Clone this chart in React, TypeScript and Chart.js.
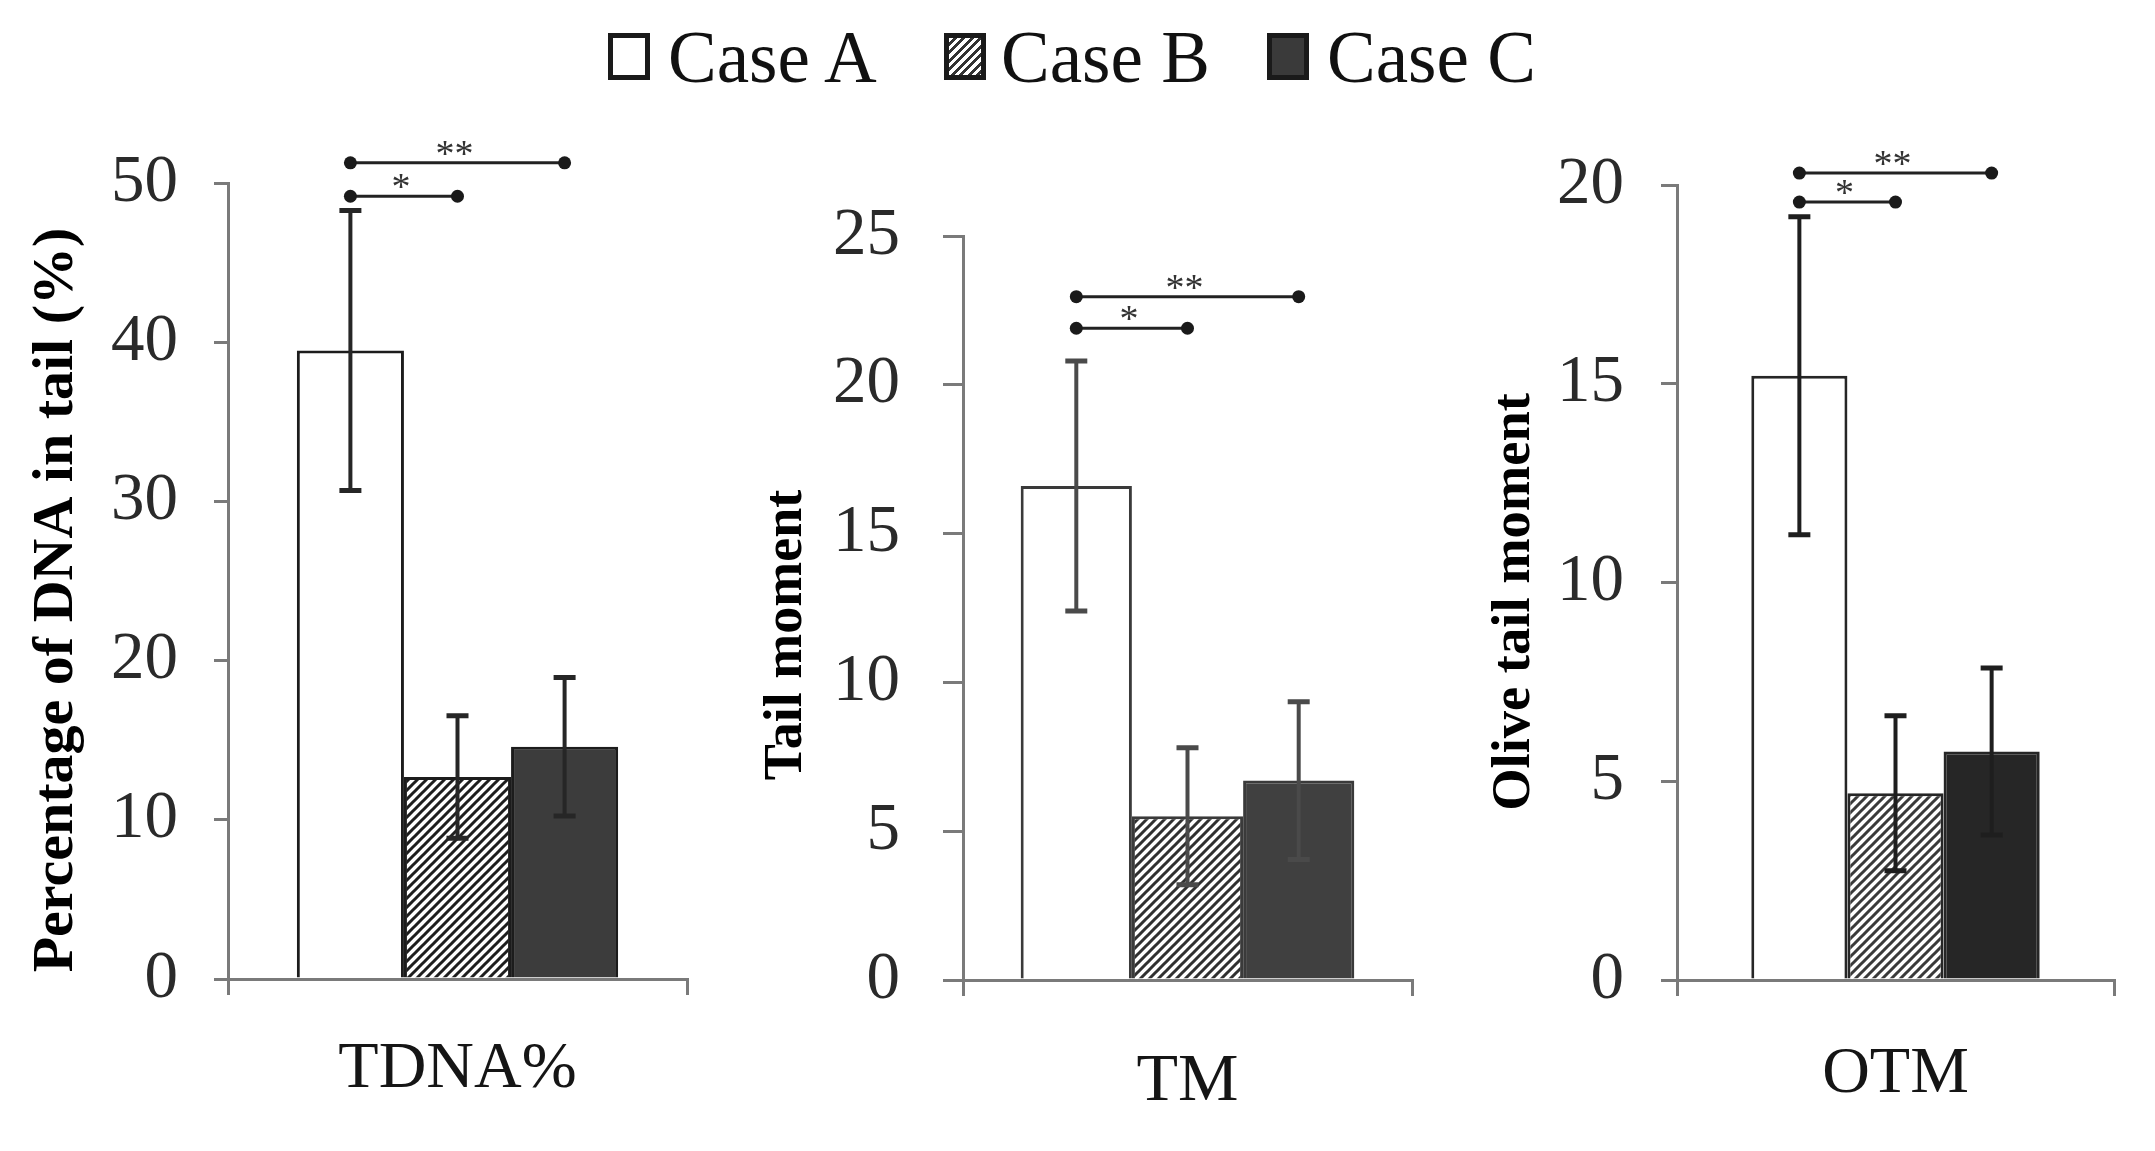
import React, { useEffect, useRef } from "react";
import { Chart, registerables } from "chart.js";

Chart.register(...registerables);

// ---------------- data ----------------
const groups = ["TDNA%", "TM", "OTM"];
const seriesNames = ["Case A", "Case B", "Case C"];
const caseAMean = [39.5, 16.6, 15.2];
const caseASd = [8.8, 4.2, 4.0];
const caseBMean = [12.7, 5.5, 4.7];
const caseBSd = [3.85, 2.3, 1.95];
const caseCMean = [14.6, 6.7, 5.75];
const caseCSd = [4.35, 2.65, 2.1];
const yTitles = ["Percentage of DNA in tail (%)", "Tail moment", "Olive tail moment"];
const yMax = [50, 25, 20];
const yStep = [10, 5, 5];
// significance brackets (value level on each panel's y scale)
const sigABLevel = [49.2, 21.9, 19.57];
const sigACLevel = [51.3, 22.96, 20.3];
const sigABLabel = "*";
const sigACLabel = "**";

// ---------------- layout / style ----------------
const SERIF = "'Liberation Serif', 'Times New Roman', serif";
const PAGE_H = 1151;

const PANELS = [
  {
    left: 0, width: 715, top: 90,
    plotTop: 183.5, plotBottom: 979, plotLeft: 228, plotRight: 687,
    tickLen: 14, tickPad: 36, tickSize: 67,
    titleSize: 58, titleX: 57, titleY: 600,
    xLabelSize: 66, xPad: 35, catPct: 0.70,
    barBorder: "#1c1c1c", fillC: "#3c3c3c", hatch: "#1e1e1e", err: "#262626",
  },
  {
    left: 715, width: 715, top: 90,
    plotTop: 236, plotBottom: 980, plotLeft: 963, plotRight: 1412,
    tickLen: 20, tickPad: 43, tickSize: 67,
    titleSize: 54, titleX: 787, titleY: 635,
    xLabelSize: 68, xPad: 45, catPct: 0.743,
    barBorder: "#3a3a3a", fillC: "#404040", hatch: "#303030", err: "#4a4a4a",
  },
  {
    left: 1430, width: 725, top: 90,
    plotTop: 185, plotBottom: 980, plotLeft: 1677, plotRight: 2114,
    tickLen: 16, tickPad: 37, tickSize: 67,
    titleSize: 54.5, titleX: 1515, titleY: 602,
    xLabelSize: 66, xPad: 39, catPct: 0.66,
    barBorder: "#262626", fillC: "#262626", hatch: "#3a3a3a", err: "#1e1e1e",
  },
];

function makeHatch(color: string): CanvasPattern | string {
  const c = document.createElement("canvas");
  const n = 9;
  c.width = n;
  c.height = n;
  const g = c.getContext("2d");
  if (!g) return color;
  g.fillStyle = "#ffffff";
  g.fillRect(0, 0, n, n);
  g.strokeStyle = color;
  g.lineWidth = 3;
  g.lineCap = "square";
  g.beginPath();
  g.moveTo(-1, n + 1);
  g.lineTo(n + 1, -1);
  g.moveTo(-2, 2);
  g.lineTo(2, -2);
  g.moveTo(n - 2, n + 2);
  g.lineTo(n + 2, n - 2);
  g.stroke();
  const p = g.createPattern(c, "repeat");
  return p || color;
}

function Panel({ index }: { index: number }) {
  const ref = useRef<HTMLCanvasElement | null>(null);
  const P = PANELS[index];
  const height = PAGE_H - P.top;

  useEffect(() => {
    const canvas = ref.current;
    if (!canvas) return;
    const means = [caseAMean[index], caseBMean[index], caseCMean[index]];
    const sds = [caseASd[index], caseBSd[index], caseCSd[index]];

    const errorBars = {
      id: "errorBars",
      afterDatasetsDraw(chart: any) {
        const ctx = chart.ctx;
        const ys = chart.scales.y;
        ctx.save();
        ctx.strokeStyle = P.err;
        chart.data.datasets.forEach((ds: any, di: number) => {
          const meta = chart.getDatasetMeta(di);
          meta.data.forEach((bar: any, i: number) => {
            const v = ds.data[i];
            const sd = sds[di];
            const x = bar.x;
            const yt = ys.getPixelForValue(v + sd);
            const yb = ys.getPixelForValue(v - sd);
            ctx.lineWidth = 4;
            ctx.beginPath();
            ctx.moveTo(x, yt);
            ctx.lineTo(x, yb);
            ctx.stroke();
            ctx.lineWidth = 5;
            ctx.beginPath();
            ctx.moveTo(x - 11, yt);
            ctx.lineTo(x + 11, yt);
            ctx.moveTo(x - 11, yb);
            ctx.lineTo(x + 11, yb);
            ctx.stroke();
          });
        });
        ctx.restore();
      },
    };

    const brackets = {
      id: "brackets",
      afterDraw(chart: any) {
        const ctx = chart.ctx;
        const ys = chart.scales.y;
        const xA = chart.getDatasetMeta(0).data[0].x;
        const xB = chart.getDatasetMeta(1).data[0].x;
        const xC = chart.getDatasetMeta(2).data[0].x;
        const items = [
          { x1: xA, x2: xB, level: sigABLevel[index], label: sigABLabel },
          { x1: xA, x2: xC, level: sigACLevel[index], label: sigACLabel },
        ];
        ctx.save();
        ctx.strokeStyle = "#222222";
        items.forEach((it) => {
          const y = ys.getPixelForValue(it.level);
          ctx.lineWidth = 3;
          ctx.beginPath();
          ctx.moveTo(it.x1, y);
          ctx.lineTo(it.x2, y);
          ctx.stroke();
          ctx.fillStyle = "#1a1a1a";
          [it.x1, it.x2].forEach((xx) => {
            ctx.beginPath();
            ctx.arc(xx, y, 6.5, 0, Math.PI * 2);
            ctx.fill();
          });
          ctx.font = `38px ${SERIF}`;
          ctx.textAlign = "center";
          ctx.textBaseline = "alphabetic";
          ctx.fillStyle = "#333333";
          ctx.fillText(it.label, (it.x1 + it.x2) / 2 - 3, y + 3);
        });
        ctx.restore();
      },
    };

    // y-axis title, placed where the reference has it (offset from the plot centre)
    const yTitle = {
      id: "yTitle",
      afterDraw(chart: any) {
        const ctx = chart.ctx;
        ctx.save();
        ctx.translate(P.titleX - P.left, P.titleY - P.top);
        ctx.rotate(-Math.PI / 2);
        ctx.font = `bold ${P.titleSize}px ${SERIF}`;
        ctx.fillStyle = "#000000";
        ctx.textAlign = "center";
        ctx.textBaseline = "middle";
        ctx.fillText(yTitles[index], 0, 0);
        ctx.restore();
      },
    };

    const hatch = makeHatch(P.hatch);
    const fills = ["#ffffff", hatch, P.fillC];

    const chart = new Chart(canvas, {
      type: "bar",
      data: {
        labels: [groups[index]],
        datasets: seriesNames.map((name, i) => ({
          label: name,
          data: [means[i]],
          backgroundColor: fills[i] as any,
          borderColor: P.barBorder,
          borderWidth: 3,
          borderSkipped: "bottom",
          categoryPercentage: P.catPct,
          barPercentage: 1.0,
        })),
      },
      options: {
        animation: false,
        responsive: true,
        maintainAspectRatio: false,
        devicePixelRatio: 1,
        layout: {
          padding: {
            left: 0,
            top: P.plotTop - P.top,
            right: P.left + P.width - P.plotRight,
            bottom: 0,
          },
        },
        plugins: {
          legend: { display: false },
          tooltip: { enabled: false },
        },
        scales: {
          x: {
            type: "category",
            offset: true,
            grid: {
              offset: true,
              drawOnChartArea: false,
              drawTicks: true,
              tickLength: 16,
              color: "#7a7a7a",
              lineWidth: 3,
            },
            border: { display: true, color: "#7a7a7a", width: 3 },
            ticks: {
              font: { family: SERIF, size: P.xLabelSize },
              color: "#151515",
              padding: P.xPad,
              maxRotation: 0,
            },
            afterFit: (s: any) => {
              s.height = P.top + height - P.plotBottom;
            },
          },
          y: {
            min: 0,
            max: yMax[index],
            ticks: {
              stepSize: yStep[index],
              font: { family: SERIF, size: P.tickSize },
              color: "#2a2a2a",
              padding: P.tickPad,
            },
            grid: {
              drawOnChartArea: false,
              drawTicks: true,
              tickLength: P.tickLen,
              color: "#7a7a7a",
              lineWidth: 3,
            },
            border: { display: true, color: "#7a7a7a", width: 3 },
            title: { display: false, text: yTitles[index] },
            afterFit: (s: any) => {
              s.width = P.plotLeft - P.left;
            },
          },
        },
      },
      plugins: [errorBars, brackets, yTitle],
    } as any);

    return () => chart.destroy();
  }, [index]);

  return (
    <div
      style={{
        position: "absolute",
        left: P.left,
        top: P.top,
        width: P.width,
        height,
      }}
    >
      <canvas ref={ref} />
    </div>
  );
}

const LEGEND_ITEMS = [
  { boxLeft: 608, textLeft: 668 },
  { boxLeft: 944, textLeft: 1001 },
  { boxLeft: 1267, textLeft: 1327 },
];

function legendBoxStyle(i: number): React.CSSProperties {
  const base: React.CSSProperties = {
    position: "absolute",
    top: 33,
    width: 42,
    height: 47,
    boxSizing: "border-box",
    border: "5px solid #1a1a1a",
  };
  if (i === 0) return { ...base, background: "#ffffff" };
  if (i === 1)
    return {
      ...base,
      background:
        "repeating-linear-gradient(135deg, #ffffff 0px, #ffffff 3px, #333333 3px, #333333 6px)",
    };
  return { ...base, background: "#3a3a3a" };
}

export default function App() {
  return (
    <div
      style={{
        position: "fixed",
        left: 0,
        top: 0,
        width: 2155,
        height: PAGE_H,
        background: "#ffffff",
        overflow: "hidden",
      }}
    >
      {seriesNames.map((name, i) => (
        <React.Fragment key={name}>
          <div style={{ ...legendBoxStyle(i), left: LEGEND_ITEMS[i].boxLeft }} />
          <div
            style={{
              position: "absolute",
              left: LEGEND_ITEMS[i].textLeft,
              top: 22,
              fontFamily: SERIF,
              fontSize: 73,
              lineHeight: "72px",
              color: "#111111",
              whiteSpace: "nowrap",
            }}
          >
            {name}
          </div>
        </React.Fragment>
      ))}
      {groups.map((g, i) => (
        <Panel key={g} index={i} />
      ))}
    </div>
  );
}
